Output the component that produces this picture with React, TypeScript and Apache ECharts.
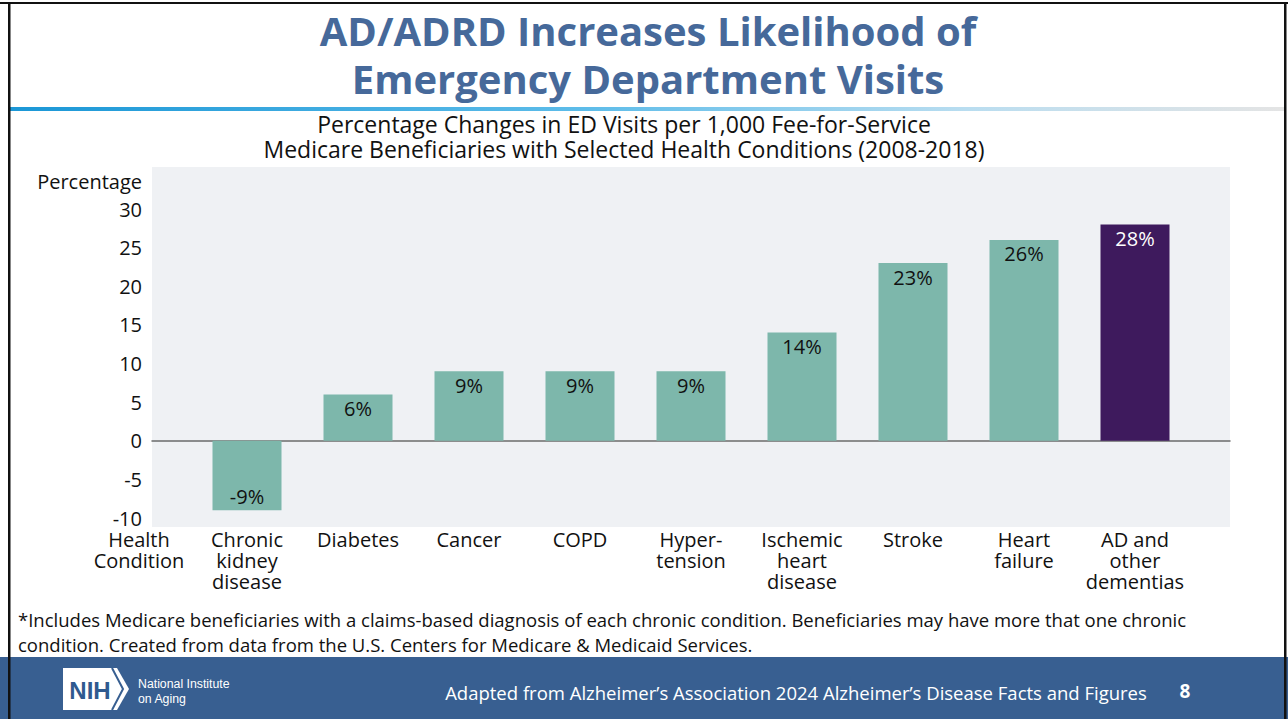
import React, { useEffect, useRef } from "react";
import * as echarts from "echarts";

const categories = [
  "Chronic\nkidney\ndisease",
  "Diabetes",
  "Cancer",
  "COPD",
  "Hyper-\ntension",
  "Ischemic\nheart\ndisease",
  "Stroke",
  "Heart\nfailure",
  "AD and\nother\ndementias",
];
const values = [-9, 6, 9, 9, 9, 14, 23, 26, 28];
const highlightIndex = 8;
const yTicks = { min: -10, max: 30, interval: 5 };

const FONT = "'Open Sans', Lato, sans-serif";
const TEAL = "#7db7ab";
const PURPLE = "#3e1a5d";
const FOOTER = "#385f91";

export default function App() {
  const ref = useRef<HTMLDivElement>(null);
  useEffect(() => {
    if (!ref.current) return;
    const chart = echarts.init(ref.current, null, { renderer: "svg" });
    const data = values.map((v, i) => ({
      value: v,
      itemStyle: { color: i === highlightIndex ? PURPLE : TEAL },
      label: {
        position: v < 0 ? "insideBottom" : "insideTop",
        color: i === highlightIndex ? "#ffffff" : "#111111",
      },
    }));
    chart.setOption({
      animation: false,
      backgroundColor: "#ffffff",
      textStyle: { fontFamily: FONT },
      grid: [
        { left: 152, right: 58, top: 209, height: 309 },
        { left: 191.5, width: 999, top: 209, height: 309 },
      ],
      xAxis: [
        {
          gridIndex: 0,
          type: "value",
          min: 0,
          max: 1,
          axisLine: { show: true, onZero: true, lineStyle: { color: "#6b6b6b", width: 1.5 } },
          axisTick: { show: false },
          axisLabel: { show: false },
          splitLine: { show: false },
        },
        {
          gridIndex: 1,
          type: "category",
          data: categories,
          axisLine: { show: false, onZero: false },
          axisTick: { show: false },
          axisLabel: {
            interval: 0,
            margin: 11,
            fontSize: 20,
            lineHeight: 21,
            color: "#111111",
            fontFamily: FONT,
          },
        },
      ],
      yAxis: [
        {
          gridIndex: 0,
          type: "value",
          min: yTicks.min,
          max: yTicks.max,
          interval: yTicks.interval,
          axisLine: { show: false },
          axisTick: { show: false },
          splitLine: { show: false },
          axisLabel: { margin: 10, fontSize: 20, color: "#111111", fontFamily: FONT },
        },
        {
          gridIndex: 1,
          type: "value",
          min: yTicks.min,
          max: yTicks.max,
          interval: yTicks.interval,
          axisLine: { show: false },
          axisTick: { show: false },
          splitLine: { show: false },
          axisLabel: { show: false },
        },
      ],
      series: [
        {
          type: "bar",
          xAxisIndex: 1,
          yAxisIndex: 1,
          barWidth: 69,
          data,
          label: {
            show: true,
            distance: 4,
            fontSize: 20,
            fontFamily: FONT,
            formatter: (p: any) => p.value + "%",
          },
        },
      ],
      graphic: [
        { type: "rect", z: -10, shape: { x: 0, y: 0, width: 1288, height: 719 }, style: { fill: "#ffffff" } },
        { type: "rect", z: -5, shape: { x: 152, y: 167, width: 1078, height: 360 }, style: { fill: "#eff1f4" } },
        {
          type: "text",
          x: 648,
          y: 30,
          style: {
            text: "AD/ADRD Increases Likelihood of",
            fill: "#46699a",
            font: `bold 40px ${FONT}`,
            textAlign: "center",
            textVerticalAlign: "middle",
          },
        },
        {
          type: "text",
          x: 648,
          y: 78,
          style: {
            text: "Emergency Department Visits",
            fill: "#46699a",
            font: `bold 40px ${FONT}`,
            textAlign: "center",
            textVerticalAlign: "middle",
          },
        },
        {
          type: "rect",
          shape: { x: 10, y: 107, width: 1275, height: 4 },
          style: {
            fill: new echarts.graphic.LinearGradient(0, 0, 1, 0, [
              { offset: 0, color: "#1b97d6" },
              { offset: 0.45, color: "#5dbce9" },
              { offset: 0.75, color: "#b9ddf0" },
              { offset: 1, color: "#e4e4e4" },
            ]),
          },
        },
        {
          type: "text",
          x: 624,
          y: 124,
          style: {
            text: "Percentage Changes in ED Visits per 1,000 Fee-for-Service",
            fill: "#111111",
            font: `23px ${FONT}`,
            textAlign: "center",
            textVerticalAlign: "middle",
          },
        },
        {
          type: "text",
          x: 624,
          y: 149,
          style: {
            text: "Medicare Beneficiaries with Selected Health Conditions (2008-2018)",
            fill: "#111111",
            font: `23px ${FONT}`,
            textAlign: "center",
            textVerticalAlign: "middle",
          },
        },
        {
          type: "text",
          x: 142,
          y: 181,
          style: {
            text: "Percentage",
            fill: "#111111",
            font: `20px ${FONT}`,
            textAlign: "right",
            textVerticalAlign: "middle",
          },
        },
        {
          type: "text",
          x: 139,
          y: 529,
          style: {
            text: "Health\nCondition",
            fill: "#111111",
            font: `20px ${FONT}`,
            lineHeight: 21,
            textAlign: "center",
            textVerticalAlign: "top",
          },
        },
        {
          type: "text",
          x: 18,
          y: 619,
          style: {
            text: "*Includes Medicare beneficiaries with a claims-based diagnosis of each chronic condition. Beneficiaries may have more that one chronic",
            fill: "#111111",
            font: `18.5px ${FONT}`,
            textAlign: "left",
            textVerticalAlign: "middle",
          },
        },
        {
          type: "text",
          x: 18,
          y: 644,
          style: {
            text: "condition. Created from data from the U.S. Centers for Medicare & Medicaid Services.",
            fill: "#111111",
            font: `18.5px ${FONT}`,
            textAlign: "left",
            textVerticalAlign: "middle",
          },
        },
        { type: "rect", shape: { x: 0, y: 657, width: 1288, height: 62 }, style: { fill: FOOTER } },
        {
          type: "polygon",
          shape: { points: [[63, 668], [117, 668], [129, 689], [117, 710], [63, 710]] },
          style: { fill: "#ffffff" },
        },
        {
          type: "polyline",
          shape: { points: [[112, 668], [123, 689], [112, 710]] },
          style: { stroke: FOOTER, lineWidth: 2, fill: "none" },
        },
        {
          type: "text",
          x: 90,
          y: 690,
          style: {
            text: "NIH",
            fill: "#2f5a8f",
            font: `bold 24px 'Liberation Sans', Arial, sans-serif`,
            textAlign: "center",
            textVerticalAlign: "middle",
          },
        },
        {
          type: "text",
          x: 138,
          y: 684,
          style: {
            text: "National Institute",
            fill: "#ffffff",
            font: `12.3px 'Liberation Sans', Arial, sans-serif`,
            textAlign: "left",
            textVerticalAlign: "middle",
          },
        },
        {
          type: "text",
          x: 138,
          y: 699,
          style: {
            text: "on Aging",
            fill: "#ffffff",
            font: `12.3px 'Liberation Sans', Arial, sans-serif`,
            textAlign: "left",
            textVerticalAlign: "middle",
          },
        },
        {
          type: "text",
          x: 796,
          y: 692,
          style: {
            text: "Adapted from Alzheimer\u2019s Association 2024 Alzheimer\u2019s Disease Facts and Figures",
            fill: "#ffffff",
            font: `18.5px ${FONT}`,
            textAlign: "center",
            textVerticalAlign: "middle",
          },
        },
        {
          type: "text",
          x: 1185,
          y: 691,
          style: {
            text: "8",
            fill: "#ffffff",
            font: `bold 19px ${FONT}`,
            textAlign: "center",
            textVerticalAlign: "middle",
          },
        },
        { type: "rect", z: 100, shape: { x: 0, y: 2, width: 1288, height: 2 }, style: { fill: "#111111" } },
        { type: "rect", z: 100, shape: { x: 8, y: 2, width: 2.5, height: 717 }, style: { fill: "#111111" } },
        { type: "rect", z: 100, shape: { x: 1284, y: 2, width: 2.5, height: 717 }, style: { fill: "#111111" } },
      ],
    });
    return () => chart.dispose();
  }, []);
  return (
    <div
      ref={ref}
      style={{ position: "fixed", left: 0, top: 0, width: 1288, height: 719 }}
    />
  );
}
